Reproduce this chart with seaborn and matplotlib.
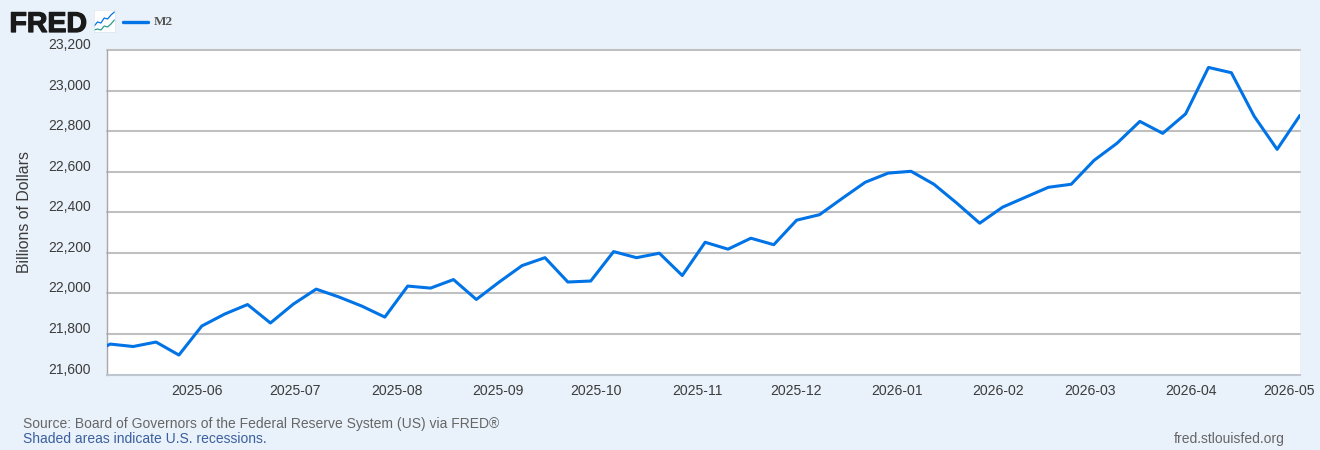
import pandas as pd
import numpy as np
import matplotlib
matplotlib.use("Agg")
import matplotlib.pyplot as plt
import matplotlib.patheffects as pe
from matplotlib.lines import Line2D
from matplotlib.transforms import ScaledTranslation
import seaborn as sns

# weekly M2 (first point falls just outside the left edge)
start_week = "2025-04-28 08:00"
m2_values = [21695, 21750, 21738, 21760, 21696, 21839, 21898, 21945, 21854, 21947,
             22021, 21982, 21937, 21883, 22036, 22026, 22068, 21970, 22056, 22137,
             22176, 22056, 22061, 22206, 22176, 22198, 22088, 22252, 22218, 22272,
             22240, 22361, 22388, 22469, 22548, 22593, 22602, 22538, 22445, 22346,
             22425, 22474, 22523, 22538, 22656, 22740, 22848, 22789, 22885, 23114,
             23088, 22873, 22710, 22878]
y_ticks = [21600, 21800, 22000, 22200, 22400, 22600, 22800, 23000, 23200]
month_ticks = ["2025-06", "2025-07", "2025-08", "2025-09", "2025-10", "2025-11",
               "2025-12", "2026-01", "2026-02", "2026-03", "2026-04", "2026-05"]

BG = "#e9f1fa"
LINE = "#0073e6"
GRID = "#c0c0c0"
TEXT = "#3c3c3c"
W, H = 1320, 450

sns.set_theme(style="white")
plt.rcParams["font.family"] = ["Liberation Sans", "DejaVu Sans"]

df = pd.DataFrame({
    "date": pd.date_range(start_week, periods=len(m2_values), freq="7D"),
    "M2": m2_values,
})

fig = plt.figure(figsize=(W / 100, H / 100), dpi=100, facecolor=BG)
ax = fig.add_axes([107 / W, 1 - 374.5 / H, 1193 / W, 324.5 / H], facecolor="white")

sns.lineplot(data=df, x="date", y="M2", ax=ax, color=LINE, linewidth=2.2, zorder=5)

ax.set_xlim(pd.Timestamp("2025-05-04 08:00"), pd.Timestamp("2026-05-04 08:00"))
ax.set_ylim(21600, 23200)
ax.set_xlabel("")
ax.set_ylabel("")

ax.set_yticks(y_ticks)
ax.set_yticklabels([f"{v:,}" for v in y_ticks], fontsize=10, color=TEXT)
ax.set_xticks(pd.to_datetime([m + "-01" for m in month_ticks]))
ax.set_xticklabels(month_ticks, fontsize=10.1, color=TEXT)
ax.grid(axis="y", color=GRID, linewidth=1.5, clip_on=False)
ax.set_axisbelow(True)
ax.tick_params(axis="y", length=0, pad=11.5)
ax.tick_params(axis="x", length=6.5, width=0.8, color="#c8d6e8", pad=0)

# FRED puts the y labels just above their gridlines
shift = ScaledTranslation(0, 6.5 / 100, fig.dpi_scale_trans)
for lab in ax.get_yticklabels():
    lab.set_transform(lab.get_transform() + shift)

for side in ["top", "right"]:
    ax.spines[side].set_visible(False)
ax.spines["left"].set_color("#a8a8a8")
ax.spines["left"].set_linewidth(1)
ax.spines["bottom"].set_color("#c0c8d4")
ax.spines["bottom"].set_linewidth(1.2)

fig.text(24.5 / W, 1 - 212 / H, "Billions of Dollars", rotation=90, fontsize=11.4,
         color=TEXT, ha="center", va="center")

# header: logo, little chart icon, legend
fig.text(9.5 / W, 1 - 32 / H, "FRED", fontsize=20.5, fontweight="bold", color="#1a1a1a",
         ha="left", va="baseline", family=["Liberation Sans"],
         path_effects=[pe.withStroke(linewidth=0.9, foreground="#1a1a1a")])

icon = fig.add_axes([93.5 / W, 1 - 32 / H, 21.5 / W, 22 / H], facecolor="white")
icon.plot([0, 1, 2, 3, 4, 5, 6], [3, 5, 4.5, 7, 6.5, 8.5, 10], color=LINE, lw=0.9)
icon.plot([0, 1, 2, 3, 4, 5, 6], [1, 1.5, 1, 3, 2.5, 4, 6], color="#2a9d8f", lw=0.9)
icon.set_xlim(-0.2, 6.2)
icon.set_ylim(0, 11)
icon.set_xticks([])
icon.set_yticks([])
for s in icon.spines.values():
    s.set_color("#dde6ef")
    s.set_linewidth(0.5)

fig.add_artist(Line2D([123 / W, 148 / W], [1 - 22 / H, 1 - 22 / H], color=LINE, linewidth=2.4))
fig.text(153.5 / W, 1 - 22 / H, "M2", fontsize=9.5, fontweight="bold", color="#555555",
         ha="left", va="center", family=["Liberation Serif"])

# footer
fig.text(23 / W, 1 - 424 / H, "Source: Board of Governors of the Federal Reserve System (US) via FRED®",
         fontsize=10.03, color="#666666", ha="left", va="center")
fig.text(23 / W, 1 - 439 / H, "Shaded areas indicate U.S. recessions.",
         fontsize=10.03, color="#3b5f9e", ha="left", va="center")
fig.text(1284.5 / W, 1 - 439 / H, "fred.stlouisfed.org", fontsize=10.03, color="#666666",
         ha="right", va="center")

fig.savefig("out.png", dpi=100, facecolor=BG)
